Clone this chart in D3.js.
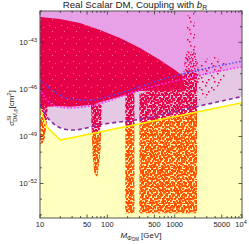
<!DOCTYPE html>
<meta charset="utf-8">
<style>
body { margin: 0; background: #fff; }
text { font-family: "Liberation Sans", Arial, sans-serif; fill: #222; }
</style>
<svg width="249" height="244"></svg>
<script src="https://d3js.org/d3.v7.min.js"></script>
<script>
// data: [mass in GeV, log10 sigma in cm^2]
var yellowLine = [[10, -47.2], [12.7, -48.4], [20, -49.23], [10000, -46.85]];
var purpleDashed = [[10, -47.0], [12.7, -47.76], [15.6, -48.15], [20, -48.45], [31, -48.59], [78, -48.25], [305, -47.9], [1860, -47.15], [10000, -46.45]];
var magentaDotted = [[10, -46.0], [14, -46.87], [20, -47.13], [28, -47.19], [55, -47.06], [305, -46.04], [10000, -44.55]];
var blueDotted = [[10, -45.4], [16.7, -46.17], [28, -46.6], [55, -46.68], [154, -46.23], [610, -45.4], [10000, -44.2]];

// scan regions (outlines of the point clouds)
var blob = [[10, -41.38], [19.8, -41.51], [39, -41.77], [78, -42.21], [154, -42.72], [305, -43.36], [605, -44.13], [1010, -44.77], [1330, -45.15],
            [1400, -46.0], [305, -46.1], [55, -47.0], [28, -47.1], [20, -47.05], [13, -47.1], [10, -47.0]];
var bandWide = [[300, -46.3], [1330, -45.2], [1550, -44.8], [2150, -45.0], [2150, -53.9], [300, -53.9]];
var column2 = [[185, -46.3], [252, -46.2], [252, -53.9], [185, -53.9]];
var column1 = [[57, -46.9], [82, -46.9], [80, -49.5], [75, -51.0], [70, -51.6], [64, -51.3], [60, -50.0]];
var leftStrip = [[10, -46.8], [13, -46.9], [12.5, -48.2], [11.5, -49.3], [10, -49.6]];
var spikeLow = [[1330, -45.2], [1450, -43.6], [2050, -43.6], [2400, -45.3], [2150, -45.8]];
var spikeHigh = [[1450, -43.6], [1580, -41.05], [1950, -41.05], [2050, -43.6]];
var scatterRight = [[2150, -44.6], [3500, -43.8], [5500, -44.3], [6000, -45.0], [3500, -46.4], [2150, -46.7]];

var xMajor = [10, 50, 100, 500, 1000, 5000, 10000];
var xMajorLabels = ["10", "50", "100", "500", "1000", "5000", "10"];
var xMinor = [20, 30, 40, 60, 70, 80, 90, 200, 300, 400, 600, 700, 800, 900, 2000, 3000, 4000, 6000, 7000, 8000, 9000];
var yMajor = [-43, -46, -49, -52];
var yMinor = [-54, -53, -51, -50, -48, -47, -45, -44, -42, -41];

// texture tiles for the point clouds (two tile sizes, overlaid, to hide the repeat)
var tileA = [[0,0],[3,1],[7,0],[10,1],[1,3],[5,2],[8,4],[11,3],[3,5],[6,6],[0,6],[10,6],[2,8],[5,9],[8,8],[11,9],[0,10],[3,11],[7,11],[9,10],[4,3],[6,10],[1,5],[9,2]];
var tileC = [[0,2],[4,0],[9,1],[14,3],[2,6],[7,5],[12,7],[16,8],[5,9],[10,10],[1,11],[14,12],[3,14],[8,15],[12,16],[6,2],[11,4],[15,15],[0,16],[9,13]];
var tileB = [[1,1],[7,3],[4,7],[10,9],[2,10],[9,5]];

var svg = d3.select("svg");
var L = 40, R = 242, T = 11, B = 218;

var x = d3.scaleLog().domain([10, 10000]).range([L, R]);
var y = d3.scaleLinear().domain([-54.2, -41]).range([B, T]);

var defs = svg.append("defs");
defs.append("clipPath").attr("id", "plot")
  .append("rect").attr("x", L).attr("y", T).attr("width", R - L).attr("height", B - T);

function addPattern(id, tile, dots, color, size, bg) {
  var p = defs.append("pattern").attr("id", id)
      .attr("patternUnits", "userSpaceOnUse").attr("width", tile).attr("height", tile);
  if (bg) p.append("rect").attr("width", tile).attr("height", tile).attr("fill", bg);
  p.selectAll("rect.d").data(dots).enter().append("rect").attr("class", "d")
      .attr("x", function(d) { return d[0]; }).attr("y", function(d) { return d[1]; })
      .attr("width", size).attr("height", size)
      .attr("fill", function(d, i) { return i % 2 ? color[0] : color[1]; });
}
addPattern("redA", 12, tileA, ["#e6004a", "#ea1454"], 2.2);
addPattern("redC", 17, tileC, ["#e6004a", "#e80a50"], 2.2);
addPattern("orangeA", 12, tileA, ["#ff5000", "#ff6410"], 2.2);
addPattern("orangeC", 17, tileC, ["#ff5000", "#ff5a08"], 2.2);
addPattern("blobFill", 12, tileB.slice(0, 3), ["#ee5a84", "#f07898"], 1, "#e6004a");
addPattern("sparseDots", 12, tileA, ["#e6004a", "#e6004a"], 1.5);
addPattern("rareDots", 12, tileB, ["#e6004a", "#e6004a"], 1.5);

var line = d3.line().x(function(d) { return x(d[0]); }).y(function(d) { return y(d[1]); });
var smooth = d3.line().x(function(d) { return x(d[0]); }).y(function(d) { return y(d[1]); }).curve(d3.curveMonotoneX);
var area = function(pts, curve) {
  return d3.area().x(function(d) { return x(d[0]); }).y0(B).y1(function(d) { return y(d[1]); }).curve(curve)(pts);
};
var poly = d3.line().x(function(d) { return x(d[0]); }).y(function(d) { return y(d[1]); }).curve(d3.curveLinearClosed);

// clip regions above / below the yellow line
var ylPts = yellowLine.map(function(d) { return [x(d[0]), y(d[1])]; });
defs.append("clipPath").attr("id", "aboveY").append("path")
  .attr("d", "M" + ylPts.join("L") + "L" + R + "," + T + "L" + L + "," + T + "Z");
defs.append("clipPath").attr("id", "belowY").append("path")
  .attr("d", "M" + ylPts.join("L") + "L" + R + "," + B + "L" + L + "," + B + "Z");

var g = svg.append("g").attr("clip-path", "url(#plot)");

// exclusion regions
g.append("rect").attr("x", L).attr("y", T).attr("width", R - L).attr("height", B - T).attr("fill", "#e8a0e6");
g.append("path").attr("d", area(magentaDotted, d3.curveMonotoneX)).attr("fill", "#e4c8e4");
g.append("path").attr("d", area(purpleDashed, d3.curveMonotoneX)).attr("fill", "#ffffff");
g.append("path").attr("d", area(yellowLine, d3.curveLinear)).attr("fill", "#ffffbe");

// point clouds
g.append("path").attr("d", poly(blob)).attr("fill", "url(#blobFill)");
var up = g.append("g").attr("clip-path", "url(#aboveY)");
var down = g.append("g").attr("clip-path", "url(#belowY)");
[bandWide, column2, column1, leftStrip].forEach(function(r) {
  up.append("path").attr("d", poly(r)).attr("fill", "url(#redA)");
  up.append("path").attr("d", poly(r)).attr("fill", "url(#redC)");
  down.append("path").attr("d", poly(r)).attr("fill", "url(#orangeA)");
  down.append("path").attr("d", poly(r)).attr("fill", "url(#orangeC)");
});
g.append("path").attr("d", poly(spikeLow)).attr("fill", "url(#sparseDots)");
g.append("path").attr("d", poly(spikeHigh)).attr("fill", "url(#rareDots)");
g.append("path").attr("d", poly(scatterRight)).attr("fill", "url(#rareDots)");

// limit curves
g.append("path").attr("d", line(yellowLine)).attr("fill", "none").attr("stroke", "#ffee00").attr("stroke-width", 1.5);
g.append("path").attr("d", smooth(purpleDashed)).attr("fill", "none").attr("stroke", "#8a2aa0").attr("stroke-width", 1.6).attr("stroke-dasharray", "4,3");
g.append("path").attr("d", smooth(magentaDotted)).attr("fill", "none").attr("stroke", "#ff30ff").attr("stroke-width", 1.6).attr("stroke-dasharray", "1.5,2");
g.append("path").attr("d", smooth(blueDotted)).attr("fill", "none").attr("stroke", "#4848ff").attr("stroke-width", 1.4).attr("stroke-dasharray", "1.5,2");

// frame and ticks
svg.append("rect").attr("x", L).attr("y", T).attr("width", R - L).attr("height", B - T)
  .attr("fill", "none").attr("stroke", "#555").attr("stroke-width", 1);
var ticks = svg.append("g").attr("stroke", "#333").attr("stroke-width", 0.8);
function xTick(v, len) {
  ticks.append("line").attr("x1", x(v)).attr("x2", x(v)).attr("y1", B).attr("y2", B - len);
  ticks.append("line").attr("x1", x(v)).attr("x2", x(v)).attr("y1", T).attr("y2", T + len);
}
function yTick(v, len) {
  ticks.append("line").attr("y1", y(v)).attr("y2", y(v)).attr("x1", L).attr("x2", L + len);
  ticks.append("line").attr("y1", y(v)).attr("y2", y(v)).attr("x1", R).attr("x2", R - len);
}
xMajor.forEach(function(v) { xTick(v, 3.5); });
xMinor.forEach(function(v) { xTick(v, 2); });
yMajor.forEach(function(v) { yTick(v, 3.5); });
yMinor.forEach(function(v) { yTick(v, 2); });

// tick labels
var xl = svg.append("g").attr("font-size", 7.5).attr("text-anchor", "middle");
xMajor.forEach(function(v, i) {
  var t = xl.append("text").attr("x", x(v)).attr("y", B + 9).text(xMajorLabels[i]);
  if (v === 10000) {
    t.attr("x", x(v) - 1);
    t.append("tspan").attr("font-size", 5.5).attr("dy", -3).text("4");
  }
});
var yl = svg.append("g").attr("font-size", 7.5).attr("text-anchor", "end");
yMajor.forEach(function(v) {
  var t = yl.append("text").attr("x", 37).attr("y", y(v) + 2.5).text("10");
  t.append("tspan").attr("font-size", 5.5).attr("dy", -3).text("\u2212" + (-v));
});

// titles
var title = svg.append("text").attr("x", 135).attr("y", 8).attr("text-anchor", "middle").attr("font-size", 9.7)
  .text("Real Scalar DM, Coupling with ");
title.append("tspan").attr("font-style", "italic").text("b");
title.append("tspan").attr("font-size", 7).attr("dy", 2).text("R");

var xt = svg.append("text").attr("x", (L + R) / 2).attr("y", 238).attr("text-anchor", "middle").attr("font-size", 8);
xt.append("tspan").attr("font-style", "italic").text("M");
xt.append("tspan").attr("font-size", 6).attr("dy", 2).text("\u03a6");
xt.append("tspan").attr("font-size", 4.5).attr("dy", 1).text("DM");
xt.append("tspan").attr("dy", -3).text(" [GeV]");

var yt = svg.append("text").attr("transform", "translate(14,108) rotate(-90)").attr("text-anchor", "middle").attr("font-size", 8);
yt.append("tspan").attr("font-style", "italic").text("\u03c3");
yt.append("tspan").attr("font-size", 5.5).attr("dy", -3.5).text("SI");
yt.append("tspan").attr("font-size", 5.5).attr("dx", -6).attr("dy", 6).text("DM,p");
yt.append("tspan").attr("dy", -2.5).text("[cm");
yt.append("tspan").attr("font-size", 5.5).attr("dy", -3).text("2");
yt.append("tspan").attr("dy", 3).text("]");
</script>
